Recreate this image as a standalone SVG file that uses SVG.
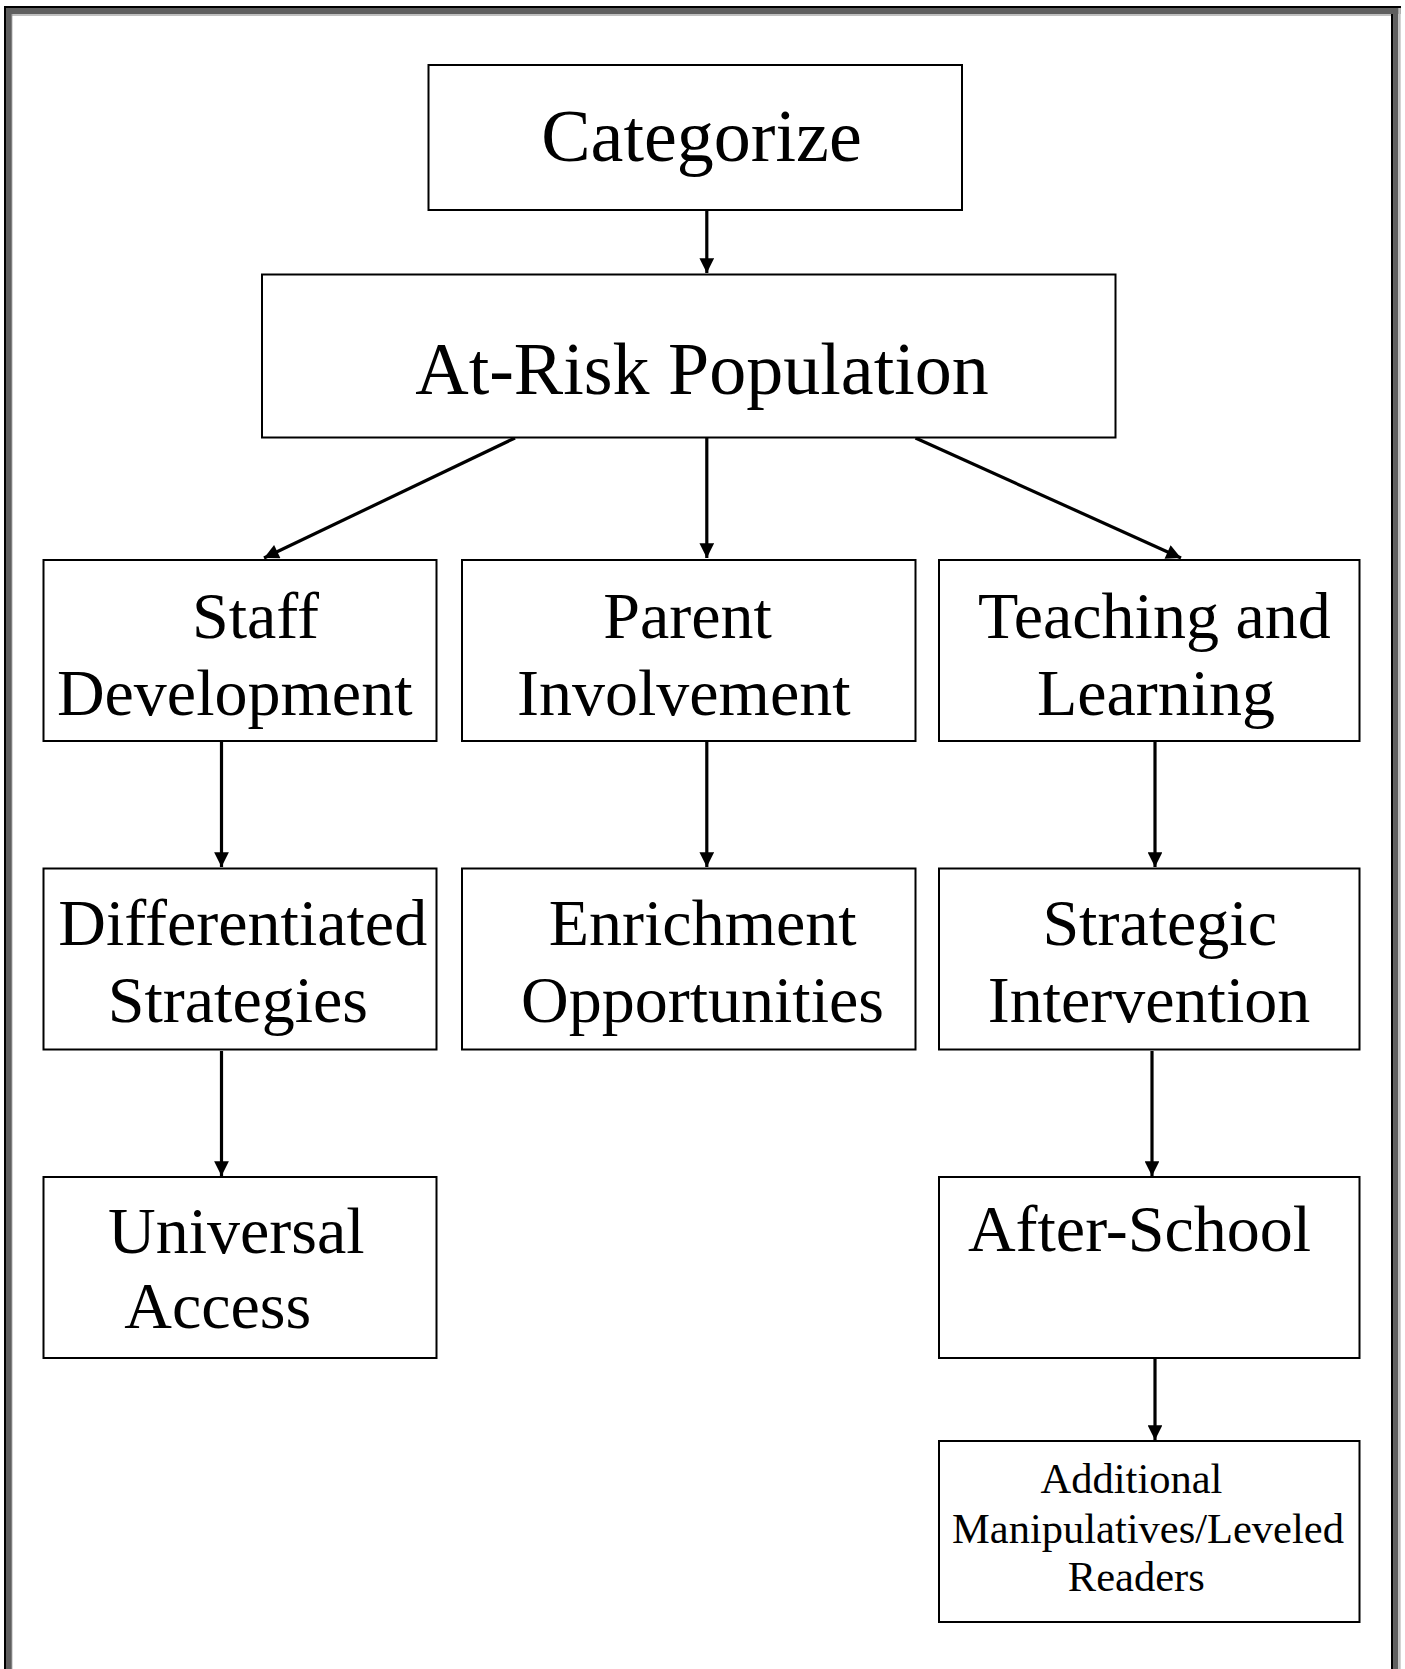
<svg xmlns="http://www.w3.org/2000/svg" width="1405" height="1669" viewBox="0 0 1405 1669">
<style>
.box{fill:#fff;stroke:#000;stroke-width:2}
.t{font-family:"Liberation Serif","Times New Roman",serif;fill:#000;text-anchor:middle}
.big{font-size:74px}
.mid{font-size:66px}
.sm{font-size:42.5px}
.c{stroke:#000;stroke-width:3.2;fill:none;marker-end:url(#ah)}
</style>
<defs>
<marker id="ah" viewBox="0 0 10 10" refX="10" refY="5" markerWidth="5" markerHeight="4.6" markerUnits="strokeWidth" orient="auto">
<path d="M0,0 L10,5 L0,10 Z" fill="#000"/>
</marker>
</defs>
<rect width="1405" height="1669" fill="#fff"/>
<g id="frame">
<rect x="4" y="6" width="1397" height="2" fill="#000"/>
<rect x="4" y="6" width="2" height="1663" fill="#000"/>
<rect x="6" y="8" width="1394.7" height="6" fill="#5f5f5f"/>
<rect x="6" y="8" width="5" height="1661" fill="#5f5f5f"/>
<rect x="11" y="14" width="1382" height="2" fill="#c0c0c0"/>
<rect x="11" y="14" width="1.3" height="1655" fill="#808080"/>
<rect x="1393.3" y="8" width="5" height="1661" fill="#5f5f5f"/>
<rect x="1398.3" y="8" width="2.4" height="1661" fill="#c0c0c0"/>
<rect x="1391" y="14" width="2.3" height="1655" fill="#000"/>
</g>
<g id="connectors">
<line class="c" x1="706.8" y1="211" x2="706.8" y2="273"/>
<line class="c" x1="515" y1="438" x2="264" y2="558"/>
<line class="c" x1="706.8" y1="438" x2="706.8" y2="558"/>
<line class="c" x1="915.5" y1="438" x2="1181" y2="558"/>
<line class="c" x1="221.5" y1="742" x2="221.5" y2="867"/>
<line class="c" x1="706.8" y1="742" x2="706.8" y2="867"/>
<line class="c" x1="1155" y1="742" x2="1155" y2="867"/>
<line class="c" x1="221.5" y1="1051" x2="221.5" y2="1176"/>
<line class="c" x1="1152" y1="1051" x2="1152" y2="1176"/>
<line class="c" x1="1155" y1="1359" x2="1155" y2="1440"/>
</g>
<g id="n-categorize">
<rect class="box" x="428.5" y="65" width="533.5" height="145"/>
<text class="t big" x="701.5" y="161">Categorize</text>
</g>
<g id="n-atrisk">
<rect class="box" x="262" y="274.5" width="853.5" height="163"/>
<text class="t big" x="702" y="394">At-Risk Population</text>
</g>
<g id="n-staff">
<rect class="box" x="43.5" y="560" width="393" height="181"/>
<text class="t mid" x="255.5" y="638">Staff</text>
<text class="t mid" x="234.7" y="715">Development</text>
</g>
<g id="n-parent">
<rect class="box" x="462" y="560" width="453.5" height="181"/>
<text class="t mid" x="687.6" y="638">Parent</text>
<text class="t mid" x="683.8" y="715">Involvement</text>
</g>
<g id="n-teaching">
<rect class="box" x="939" y="560" width="420.5" height="181"/>
<text class="t mid" x="1154.4" y="638">Teaching and</text>
<text class="t mid" x="1156" y="715">Learning</text>
</g>
<g id="n-diff">
<rect class="box" x="43.5" y="868.5" width="393" height="181"/>
<text class="t mid" x="242.7" y="945">Differentiated</text>
<text class="t mid" x="237.9" y="1022">Strategies</text>
</g>
<g id="n-enrich">
<rect class="box" x="462" y="868.5" width="453.5" height="181"/>
<text class="t mid" x="702.7" y="945">Enrichment</text>
<text class="t mid" x="702.5" y="1022">Opportunities</text>
</g>
<g id="n-strategic">
<rect class="box" x="939" y="868.5" width="420.5" height="181"/>
<text class="t mid" x="1159.7" y="945">Strategic</text>
<text class="t mid" x="1149" y="1022">Intervention</text>
</g>
<g id="n-universal">
<rect class="box" x="43.5" y="1177" width="393" height="181"/>
<text class="t mid" x="236.3" y="1253">Universal</text>
<text class="t mid" x="217.7" y="1328">Access</text>
</g>
<g id="n-afterschool">
<rect class="box" x="939" y="1177" width="420.5" height="181"/>
<text class="t mid" x="1139.5" y="1251">After-School</text>
</g>
<g id="n-additional">
<rect class="box" x="939" y="1441" width="420.5" height="181"/>
<text class="t sm" x="1131.5" y="1493">Additional</text>
<text class="t sm" x="1148" y="1543">Manipulatives/Leveled</text>
<text class="t sm" x="1136.3" y="1591">Readers</text>
</g>
</svg>
